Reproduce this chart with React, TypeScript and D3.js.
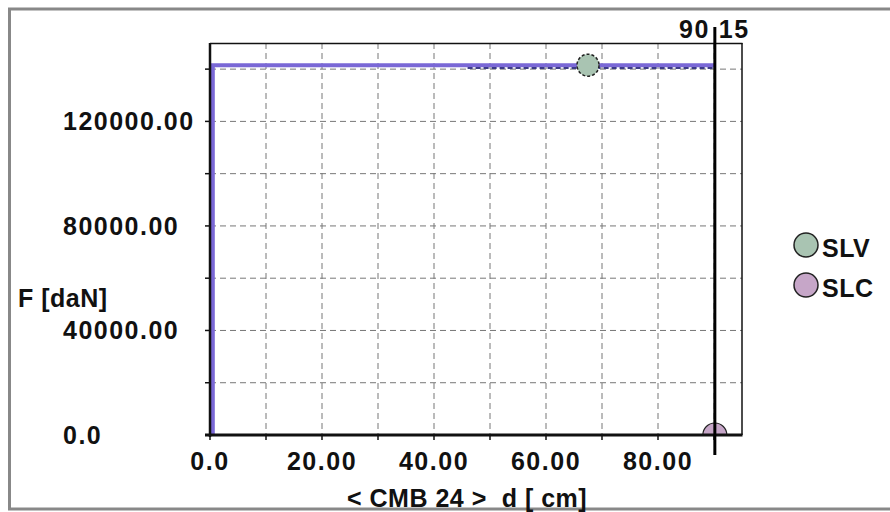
import React from "react";
import * as d3 from "d3";

const W = 890;
const H = 512;

// Data
const xTicks = [0, 20, 40, 60, 80];
const xTickLabels = ["0.0", "20.00", "40.00", "60.00", "80.00"];
const yTicks = [0, 40000, 80000, 120000];
const yTickLabels = ["0.0", "40000.00", "80000.00", "120000.00"];
const xGrid = [10, 20, 30, 40, 50, 60, 70, 80, 90];
const yGrid = [20000, 40000, 60000, 80000, 100000, 120000, 140000];
const slcD = [0.5, 0.5, 46, 90.15];
const slcF = [0, 141500, 141500, 141500];
const slvD = [46, 90.15];
const slvF = [141200, 141200];
const cursorD = 90.15;
const cursorLabel = ["90", "15"];
const markerSLV = { d: 67.5, f: 141500 };
const markerSLC = { d: 90.15, f: 0 };
const legendNames = ["SLV", "SLC"];
const legendColors = ["#a9c4b2", "#c6a6c8"];

const FONT = "'Liberation Sans', Arial, sans-serif";

export default function App() {
  const x = d3.scaleLinear().domain([0, 95]).range([210, 742]);
  const y = d3.scaleLinear().domain([0, 150000]).range([435, 43]);
  const line = d3
    .line<number>()
    .x((_, i) => x(slcD[i]))
    .y((f) => y(f));
  const line2 = d3
    .line<number>()
    .x((_, i) => x(slvD[i]))
    .y((f) => y(f));

  const numStyle = {
    fontFamily: FONT,
    fontWeight: 700,
    fontSize: 25,
    letterSpacing: 1.5,
    fill: "#111",
  } as React.CSSProperties;
  const txtStyle = {
    fontFamily: FONT,
    fontWeight: 700,
    fontSize: 25,
    letterSpacing: 0.5,
    fill: "#111",
  } as React.CSSProperties;

  return (
    <svg
      width={W}
      height={H}
      style={{ position: "absolute", left: 0, top: 0, background: "#fff" }}
    >
      <defs>
        <clipPath id="plotclip">
          <rect x={210} y={43} width={532} height={392} />
        </clipPath>
      </defs>
      {/* outer frame */}
      <rect x={9.5} y={9} width={W + 10} height={500} fill="none" stroke="#888" strokeWidth={3} />

      {/* grid */}
      {xGrid.map((v) => (
        <line key={"gx" + v} x1={x(v)} x2={x(v)} y1={43} y2={435} stroke="#777" strokeWidth={1} strokeDasharray="6,4" />
      ))}
      {yGrid.map((v) => (
        <line key={"gy" + v} x1={210} x2={742} y1={y(v)} y2={y(v)} stroke="#777" strokeWidth={1} strokeDasharray="6,4" />
      ))}

      {/* frame top & right */}
      <line x1={210} x2={742.5} y1={43.5} y2={43.5} stroke="#111" strokeWidth={1.5} />
      <line x1={742} x2={742} y1={43} y2={435} stroke="#111" strokeWidth={1.5} />

      {/* ticks */}
      {yGrid.concat([0]).map((v) => (
        <line key={"ty" + v} x1={205} x2={210} y1={y(v)} y2={y(v)} stroke="#111" strokeWidth={1.5} />
      ))}
      {xGrid.concat([0]).map((v) => (
        <line key={"tx" + v} x1={x(v)} x2={x(v)} y1={435} y2={440} stroke="#111" strokeWidth={1.5} />
      ))}

      {/* series */}
      <g clipPath="url(#plotclip)">
        <path d={line(slcF) || ""} fill="none" stroke="#7a68d6" strokeWidth={4} />
        <path d={line2(slvF) || ""} fill="none" stroke="#3d3b88" strokeWidth={2} strokeDasharray="5,3" transform="translate(0,2)" />
        <circle cx={x(markerSLC.d)} cy={y(markerSLC.f)} r={12} fill={legendColors[1]} stroke="#222" strokeWidth={1.2} />
      </g>
      <circle cx={x(markerSLV.d)} cy={y(markerSLV.f)} r={11} fill={legendColors[0]} stroke="#222" strokeWidth={1.5} strokeDasharray="3,2" />

      {/* axes */}
      <line x1={210} x2={210} y1={43} y2={437} stroke="#111" strokeWidth={2.5} />
      <line x1={205} x2={742.5} y1={435} y2={435} stroke="#111" strokeWidth={3} />

      {/* cursor */}
      <line x1={x(cursorD)} x2={x(cursorD)} y1={27} y2={455} stroke="#000" strokeWidth={3} />
      <text x={x(cursorD) - 5} y={38} textAnchor="end" style={numStyle}>{cursorLabel[0]}</text>
      <text x={x(cursorD) + 4} y={38} textAnchor="start" style={numStyle}>{cursorLabel[1]}</text>

      {/* y labels */}
      {yTicks.map((v, i) => (
        <text key={"yl" + v} x={63} y={y(v) + 9} textAnchor="start" style={numStyle}>
          {yTickLabels[i]}
        </text>
      ))}
      <text x={18} y={307} style={txtStyle}>F [daN]</text>

      {/* x labels */}
      {xTicks.map((v, i) => (
        <text key={"xl" + v} x={x(v)} y={470} textAnchor="middle" style={numStyle}>
          {xTickLabels[i]}
        </text>
      ))}
      <text x={347} y={507} style={{ ...txtStyle, whiteSpace: "pre" }} xmlSpace="preserve">
        {"< CMB 24 >  d [ cm]"}
      </text>

      {/* legend */}
      {legendNames.map((n, i) => (
        <g key={n}>
          <circle cx={806} cy={245 + i * 40} r={12} fill={legendColors[i]} stroke="#222" strokeWidth={1.5} />
          <text x={822} y={257 + i * 40} style={txtStyle}>{n}</text>
        </g>
      ))}
    </svg>
  );
}
